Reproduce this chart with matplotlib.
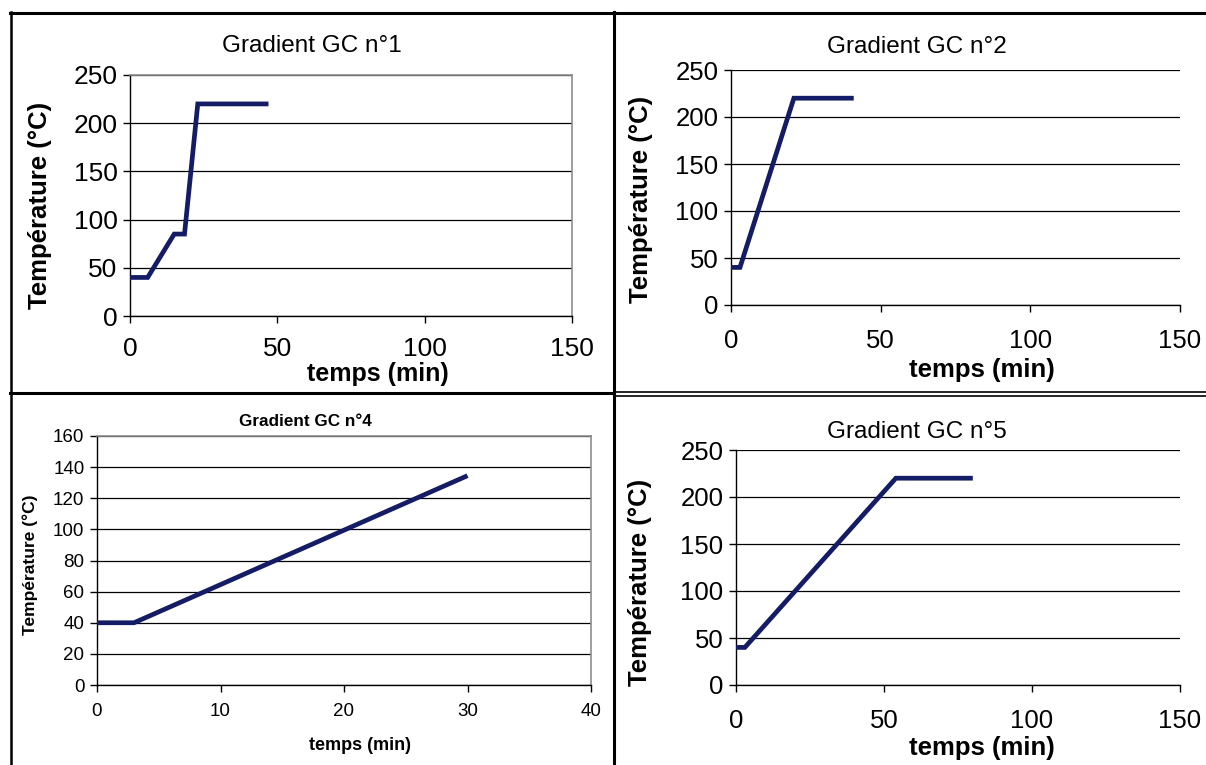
import matplotlib
matplotlib.use("Agg")
import matplotlib.pyplot as plt
from matplotlib.lines import Line2D

plt.rcParams['font.family'] = ['Liberation Sans', 'DejaVu Sans']

# ---- data ----
t1 = [0, 6, 15, 18.5, 23, 47]
T1 = [40, 40, 85, 85, 220, 220]
t2 = [0, 3, 21, 41]
T2 = [40, 40, 220, 220]
t4 = [0, 3, 30]
T4 = [40, 40, 134.5]
t5 = [0, 3, 54, 80]
T5 = [40, 40, 220, 220]

titles = ["Gradient GC n°1", "Gradient GC n°2", "Gradient GC n°4", "Gradient GC n°5"]
xlabel = "temps (min)"
ylabel = "Température (°C)"

W, H = 1206, 765
fig = plt.figure(figsize=(W / 100, H / 100), dpi=100)

def fx(px):
    return px / W

def fy(py):
    return 1 - py / H

def rect(l, t, r, b):
    return [fx(l), fy(b), fx(r) - fx(l), fy(t) - fy(b)]

LINE = '#141c66'

def panel(r, t, T, xlim, xticks, ylim, yticks, framed, tick_fs):
    ax = fig.add_axes(rect(*r))
    ax.plot(t, T, color=LINE, lw=3.4, solid_capstyle='butt', solid_joinstyle='miter', zorder=3)
    ax.set_xlim(*xlim)
    ax.set_ylim(*ylim)
    ax.set_xticks(xticks)
    ax.set_yticks(yticks)
    ax.tick_params(axis='both', direction='out', length=5, width=1, labelsize=tick_fs, color='black')
    ax.tick_params(axis='x', pad=10)
    ax.tick_params(axis='y', pad=4)
    ax.yaxis.grid(True, color='black', lw=0.9)
    ax.set_axisbelow(True)
    for s in ['left', 'bottom']:
        ax.spines[s].set_color('black')
        ax.spines[s].set_linewidth(1.0)
    for s in ['top', 'right']:
        if framed:
            ax.spines[s].set_color('#8c8c8c')
            ax.spines[s].set_linewidth(1.2)
        else:
            ax.spines[s].set_visible(False)
    return ax

# Panel 1
a1 = panel((130, 75, 572, 316), t1, T1, (0, 150), [0, 50, 100, 150], (0, 250),
           [0, 50, 100, 150, 200, 250], True, 19)
a1.tick_params(axis='x', pad=10)
fig.text(fx(312), fy(46), titles[0], ha='center', va='center', fontsize=17.5)
fig.text(fx(378), fy(374), xlabel, ha='center', va='center', fontsize=18, fontweight='bold')
fig.text(fx(40), fy(205), ylabel, ha='center', va='center', rotation=90, fontsize=18.5, fontweight='bold')

# Panel 2
a2 = panel((731, 70, 1180, 305), t2, T2, (0, 150), [0, 50, 100, 150], (0, 250),
           [0, 50, 100, 150, 200, 250], False, 18.5)
a2.tick_params(axis='x', pad=12)
fig.text(fx(917), fy(47), titles[1], ha='center', va='center', fontsize=17.5)
fig.text(fx(982), fy(370), xlabel, ha='center', va='center', fontsize=18.5, fontweight='bold')
fig.text(fx(641), fy(199), ylabel, ha='center', va='center', rotation=90, fontsize=18.5, fontweight='bold')

# Panel 4
a4 = panel((97, 436, 591, 685), t4, T4, (0, 40), [0, 10, 20, 30, 40], (0, 160),
           [0, 20, 40, 60, 80, 100, 120, 140, 160], True, 13.5)
a4.tick_params(axis='x', pad=8)
fig.text(fx(305), fy(421), titles[2], ha='center', va='center', fontsize=12.3, fontweight='bold')
fig.text(fx(360), fy(745), xlabel, ha='center', va='center', fontsize=13, fontweight='bold')
fig.text(fx(30), fy(565), ylabel, ha='center', va='center', rotation=90, fontsize=12.5, fontweight='bold')

# Panel 5
a5 = panel((736, 450, 1180, 685), t5, T5, (0, 150), [0, 50, 100, 150], (0, 250),
           [0, 50, 100, 150, 200, 250], False, 18.5)
a5.tick_params(axis='x', pad=12)
fig.text(fx(917), fy(432), titles[3], ha='center', va='center', fontsize=17.5)
fig.text(fx(982), fy(748), xlabel, ha='center', va='center', fontsize=18.5, fontweight='bold')
fig.text(fx(640), fy(582), ylabel, ha='center', va='center', rotation=90, fontsize=18.5, fontweight='bold')

# ---- table borders ----
def hline(y, x0, x1, lw):
    fig.add_artist(Line2D([fx(x0), fx(x1)], [fy(y), fy(y)], color='black', lw=lw))

def vline(x, y0, y1, lw):
    fig.add_artist(Line2D([fx(x), fx(x)], [fy(y0), fy(y1)], color='black', lw=lw))

hline(13, 10, 1206, 2.2)
vline(11, 12, 765, 1.8)
vline(614, 12, 765, 2.2)
hline(393, 10, 614, 2.2)
hline(392, 614, 1206, 1.2)
hline(396, 614, 1206, 1.2)

fig.savefig("out.png", dpi=100)
